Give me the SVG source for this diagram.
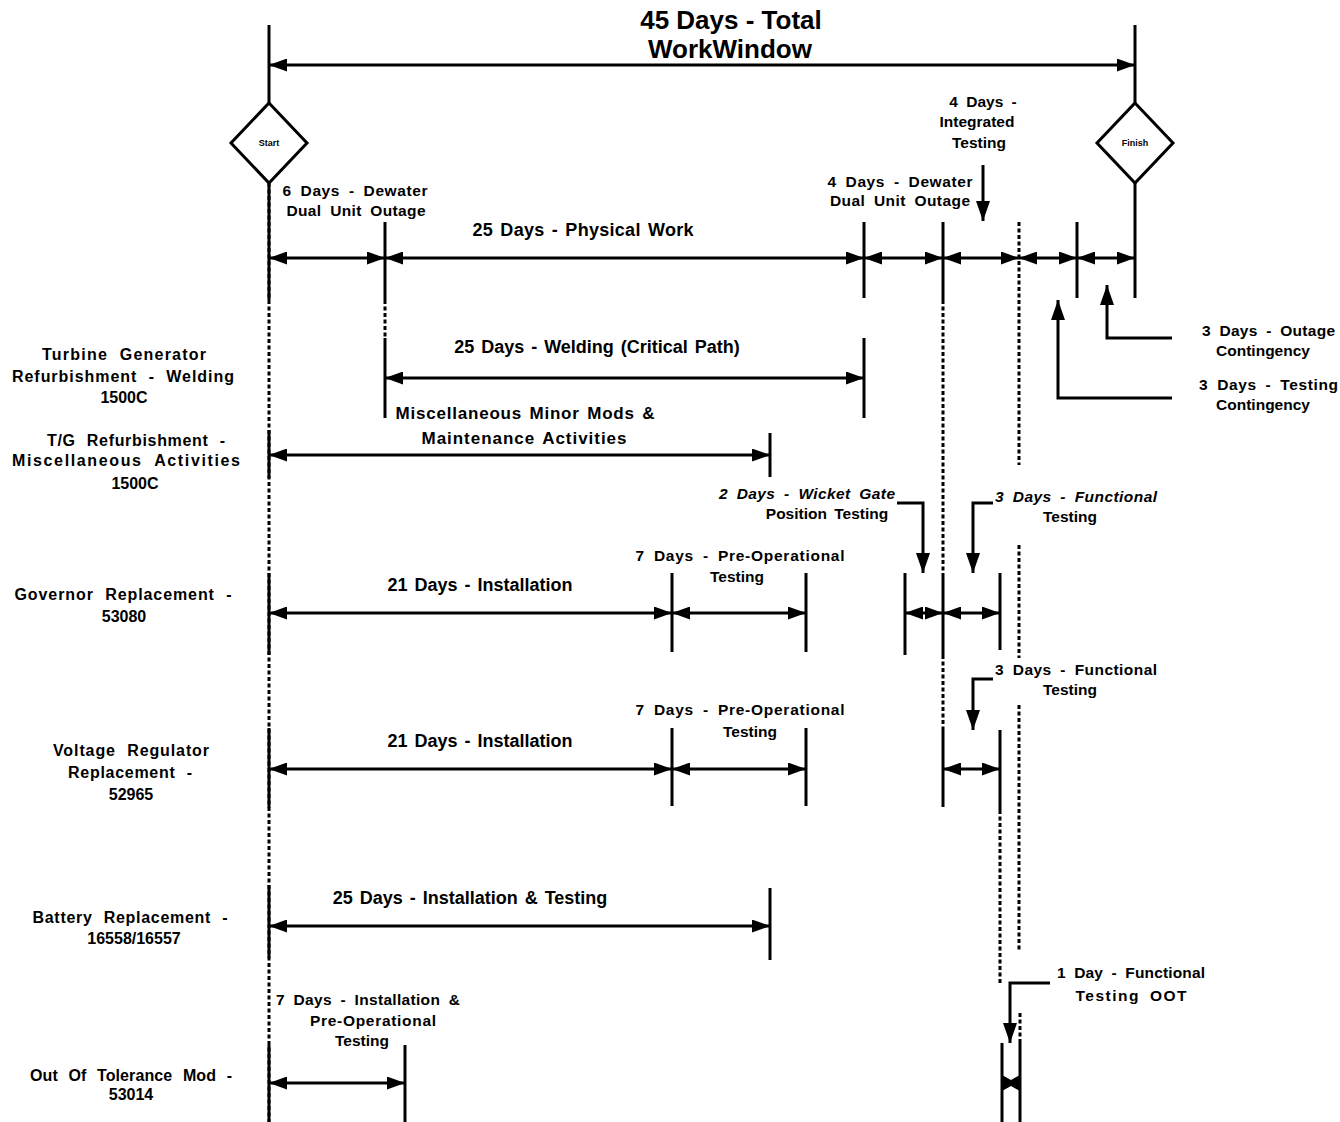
<svg xmlns="http://www.w3.org/2000/svg" width="1340" height="1122" viewBox="0 0 1340 1122">
<style>
text{font-family:"Liberation Sans",Arial,sans-serif;font-weight:bold;fill:#000}
.ti{font-size:26px;text-anchor:middle}
.m{font-size:18px;text-anchor:middle;word-spacing:2px}
.s{font-size:15.5px;word-spacing:4px}
.c{text-anchor:middle}
.it{font-style:italic}
.l{font-size:16px;text-anchor:middle;word-spacing:6px}
.dm{font-size:9px;text-anchor:middle}
.ln{stroke:#000;stroke-width:3;fill:none}
.dt{stroke:#000;stroke-width:3;fill:none;stroke-dasharray:4 2.5}
.ar{stroke:#000;stroke-width:3;fill:none;marker-start:url(#ah);marker-end:url(#ah)}
.ld{stroke:#000;stroke-width:3;fill:none;marker-end:url(#lh)}
.dia{fill:#fff;stroke:#000;stroke-width:3}
</style>
<defs>
<marker id="ah" viewBox="0 0 18 13" refX="18" refY="6.5" markerWidth="18" markerHeight="13" markerUnits="userSpaceOnUse" orient="auto-start-reverse"><path d="M0,0 L18,6.5 L0,13 z"/></marker>
<marker id="lh" viewBox="0 0 20 14" refX="20" refY="7" markerWidth="20" markerHeight="14" markerUnits="userSpaceOnUse" orient="auto"><path d="M0,0 L20,7 L0,14 z"/></marker>
</defs>

<g id="connectors">
<line class="ln" x1="269" y1="25" x2="269" y2="103"/>
<line class="dt" x1="269" y1="183" x2="269" y2="1122"/>
<line class="ln" x1="269" y1="183" x2="269" y2="300"/>
<line class="ln" x1="269" y1="430" x2="269" y2="478"/>
<line class="ln" x1="269" y1="573" x2="269" y2="655"/>
<line class="ln" x1="269" y1="728" x2="269" y2="808"/>
<line class="ln" x1="269" y1="885" x2="269" y2="958"/>
<line class="ln" x1="269" y1="1045" x2="269" y2="1122"/>
<line class="ln" x1="1135" y1="25" x2="1135" y2="103"/>
<line class="ln" x1="1135" y1="183" x2="1135" y2="298"/>
<line class="ar" x1="269" y1="65" x2="1135" y2="65"/>

<line class="ln" x1="385" y1="222" x2="385" y2="300"/>
<line class="dt" x1="385" y1="300" x2="385" y2="338"/>
<line class="ln" x1="385" y1="338" x2="385" y2="418"/>
<line class="ln" x1="864" y1="222" x2="864" y2="298"/>
<line class="ln" x1="864" y1="338" x2="864" y2="418"/>
<line class="ln" x1="943" y1="222" x2="943" y2="300"/>
<line class="dt" x1="943" y1="300" x2="943" y2="573"/>
<line class="ln" x1="943" y1="573" x2="943" y2="655"/>
<line class="dt" x1="943" y1="655" x2="943" y2="730"/>
<line class="ln" x1="943" y1="730" x2="943" y2="807"/>
<line class="dt" x1="1019" y1="222" x2="1019" y2="465"/>
<line class="dt" x1="1019" y1="545" x2="1019" y2="658"/>
<line class="dt" x1="1019" y1="705" x2="1019" y2="950"/>
<line class="ln" x1="1077" y1="222" x2="1077" y2="298"/>

<line class="ar" x1="269" y1="258" x2="385" y2="258"/>
<line class="ar" x1="385" y1="258" x2="864" y2="258"/>
<line class="ar" x1="864" y1="258" x2="943" y2="258"/>
<line class="ar" x1="943" y1="258" x2="1019" y2="258"/>
<line class="ar" x1="1019" y1="258" x2="1077" y2="258"/>
<line class="ar" x1="1077" y1="258" x2="1135" y2="258"/>

<line class="ld" x1="983" y1="165" x2="983" y2="221"/>

<polyline class="ld" points="1172,338 1107,338 1107,285"/>
<polyline class="ld" points="1172,398 1058,398 1058,300"/>

<line class="ar" x1="385" y1="378" x2="864" y2="378"/>

<line class="ln" x1="770" y1="433" x2="770" y2="477"/>
<line class="ar" x1="269" y1="455" x2="770" y2="455"/>

<line class="ln" x1="672" y1="573" x2="672" y2="652"/>
<line class="ln" x1="806" y1="573" x2="806" y2="652"/>
<line class="ar" x1="269" y1="613" x2="672" y2="613"/>
<line class="ar" x1="672" y1="613" x2="806" y2="613"/>
<line class="ln" x1="905" y1="573" x2="905" y2="655"/>
<line class="ln" x1="1000" y1="573" x2="1000" y2="650"/>
<line class="ar" x1="905" y1="613" x2="943" y2="613"/>
<line class="ar" x1="943" y1="613" x2="1000" y2="613"/>
<polyline class="ld" points="897,503 923,503 923,573"/>
<polyline class="ld" points="993,503 973,503 973,573"/>

<line class="ln" x1="672" y1="728" x2="672" y2="806"/>
<line class="ln" x1="806" y1="728" x2="806" y2="806"/>
<line class="ar" x1="269" y1="769" x2="672" y2="769"/>
<line class="ar" x1="672" y1="769" x2="806" y2="769"/>
<line class="ln" x1="1000" y1="730" x2="1000" y2="810"/>
<line class="dt" x1="1000" y1="810" x2="1000" y2="983"/>
<line class="ar" x1="943" y1="769" x2="1000" y2="769"/>
<polyline class="ld" points="993,679 973,679 973,730"/>

<line class="ln" x1="770" y1="888" x2="770" y2="960"/>
<line class="ar" x1="269" y1="926" x2="770" y2="926"/>

<line class="ln" x1="405" y1="1045" x2="405" y2="1122"/>
<line class="ar" x1="269" y1="1083" x2="405" y2="1083"/>
<line class="ln" x1="1002" y1="1043" x2="1002" y2="1122"/>
<line class="dt" x1="1020" y1="1013" x2="1020" y2="1043"/>
<line class="ln" x1="1020" y1="1043" x2="1020" y2="1122"/>
<polygon points="1002,1075 1011,1080 1020,1075 1020,1091 1011,1086 1002,1091" fill="#000"/>
<polyline class="ld" points="1050,983 1010,983 1010,1043"/>
</g>

<g id="start">
<polygon class="dia" points="269,103 307,143 269,183 231,143"/>
<text class="dm" x="269" y="146">Start</text>
</g>
<g id="finish">
<polygon class="dia" points="1135,103 1173,143 1135,183 1097,143"/>
<text class="dm" x="1135" y="146">Finish</text>
</g>

<g id="title">
<text class="ti" x="731" y="29">45 Days - Total</text>
<text class="ti" x="730" y="58">WorkWindow</text>
</g>

<g id="top-labels">
<text class="s c" x="355" y="196" textLength="145" lengthAdjust="spacing">6 Days - Dewater</text>
<text class="s c" x="356" y="216" textLength="139" lengthAdjust="spacing">Dual Unit Outage</text>
<text class="m" x="583" y="236" textLength="221" lengthAdjust="spacing">25 Days - Physical Work</text>
<text class="s c" x="900" y="187" textLength="145" lengthAdjust="spacing">4 Days - Dewater</text>
<text class="s c" x="900" y="206" textLength="140" lengthAdjust="spacing">Dual Unit Outage</text>
<text class="s c" x="983" y="107">4 Days -</text>
<text class="s c" x="977" y="127">Integrated</text>
<text class="s c" x="979" y="148">Testing</text>
<text class="s" x="1202" y="336" textLength="133" lengthAdjust="spacing">3 Days - Outage</text>
<text class="s c" x="1263" y="356">Contingency</text>
<text class="s" x="1199" y="390" textLength="139" lengthAdjust="spacing">3 Days - Testing</text>
<text class="s c" x="1263" y="410">Contingency</text>
</g>

<g id="row-labels">
<text class="m" x="597" y="353">25 Days - Welding (Critical Path)</text>
<text class="m" x="525" y="419" style="font-size:17px" textLength="259" lengthAdjust="spacing">Miscellaneous Minor Mods &amp;</text>
<text class="m" x="524" y="444" style="font-size:17px" textLength="205" lengthAdjust="spacing">Maintenance Activities</text>
<text class="m" x="480" y="591">21 Days - Installation</text>
<text class="s c" x="740" y="561" textLength="209" lengthAdjust="spacing">7 Days - Pre-Operational</text>
<text class="s c" x="737" y="582">Testing</text>
<text class="s c it" x="807" y="499" textLength="176" lengthAdjust="spacing">2 Days - Wicket Gate</text>
<text class="s c" x="827" y="519" style="word-spacing:3px">Position Testing</text>
<text class="s it" x="995" y="502" textLength="162" lengthAdjust="spacing">3 Days - Functional</text>
<text class="s c" x="1070" y="522">Testing</text>
<text class="m" x="480" y="747">21 Days - Installation</text>
<text class="s c" x="740" y="715" textLength="209" lengthAdjust="spacing">7 Days - Pre-Operational</text>
<text class="s c" x="750" y="737">Testing</text>
<text class="s" x="995" y="675" textLength="162" lengthAdjust="spacing">3 Days - Functional</text>
<text class="s c" x="1070" y="695">Testing</text>
<text class="m" x="470" y="904">25 Days - Installation &amp; Testing</text>
<text class="s" x="276" y="1005" textLength="184" lengthAdjust="spacing">7 Days - Installation &amp;</text>
<text class="s c" x="373" y="1026" textLength="126" lengthAdjust="spacing">Pre-Operational</text>
<text class="s c" x="362" y="1046">Testing</text>
<text class="s" x="1057" y="978" textLength="148" lengthAdjust="spacing">1 Day - Functional</text>
<text class="s c" x="1131" y="1001" textLength="111" lengthAdjust="spacing">Testing OOT</text>
</g>

<g id="left-labels">
<text class="l" x="124" y="360" textLength="164" lengthAdjust="spacing">Turbine Generator</text>
<text class="l" x="123" y="382" textLength="222" lengthAdjust="spacing">Refurbishment - Welding</text>
<text class="l" x="124" y="403">1500C</text>
<text class="l" x="136" y="446" textLength="178" lengthAdjust="spacing">T/G Refurbishment -</text>
<text class="l" x="126" y="466" textLength="228" lengthAdjust="spacing">Miscellaneous Activities</text>
<text class="l" x="135" y="489">1500C</text>
<text class="l" x="123" y="600" textLength="217" lengthAdjust="spacing">Governor Replacement -</text>
<text class="l" x="124" y="622">53080</text>
<text class="l" x="131" y="756" textLength="156" lengthAdjust="spacing">Voltage Regulator</text>
<text class="l" x="130" y="778" textLength="124" lengthAdjust="spacing">Replacement -</text>
<text class="l" x="131" y="800">52965</text>
<text class="l" x="130" y="923" textLength="195" lengthAdjust="spacing">Battery Replacement -</text>
<text class="l" x="134" y="944">16558/16557</text>
<text class="l" x="131" y="1081" textLength="202" lengthAdjust="spacing">Out Of Tolerance Mod -</text>
<text class="l" x="131" y="1100">53014</text>
</g>
</svg>
